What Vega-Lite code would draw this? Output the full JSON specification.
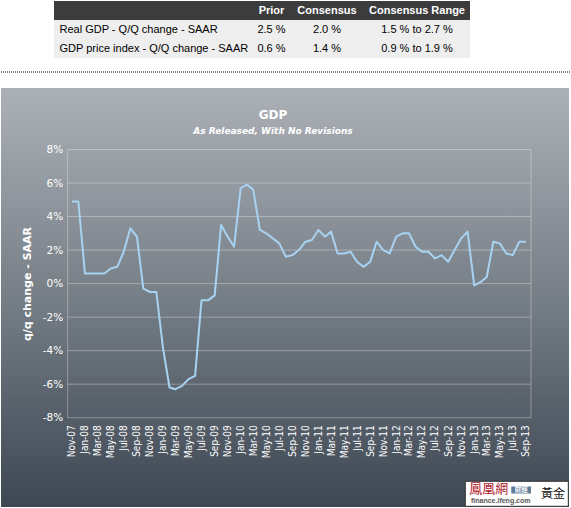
{
  "$schema": "https://vega.github.io/schema/vega-lite/v6.json",
  "background": "#ffffff",
  "padding": {"left": 0, "top": 1, "right": 0, "bottom": 0},
  "config": {"view": {"stroke": null}, "font": "Liberation Sans"},
  "datasets": {
    "table": [
      {"Indicator": "", "Prior": "Prior", "Consensus": "Consensus", "Range": "Consensus Range"},
      {"Indicator": "Real GDP - Q/Q change - SAAR", "Prior": "2.5 %", "Consensus": "2.0 %", "Range": "1.5 % to 2.7 %"},
      {"Indicator": "GDP price index - Q/Q change - SAAR", "Prior": "0.6 %", "Consensus": "1.4 %", "Range": "0.9 % to 1.9 %"}
    ],
    "grid": [{"v": -8}, {"v": -6}, {"v": -4}, {"v": -2}, {"v": 0}, {"v": 2}, {"v": 4}, {"v": 6}, {"v": 8}],
    "gdp": [
      {"date": "2007-11-01", "value": 4.9}, {"date": "2007-12-01", "value": 4.9},
      {"date": "2008-01-01", "value": 0.6}, {"date": "2008-02-01", "value": 0.6}, {"date": "2008-03-01", "value": 0.6},
      {"date": "2008-04-01", "value": 0.6}, {"date": "2008-05-01", "value": 0.9}, {"date": "2008-06-01", "value": 1.0},
      {"date": "2008-07-01", "value": 1.9}, {"date": "2008-08-01", "value": 3.3}, {"date": "2008-09-01", "value": 2.8},
      {"date": "2008-10-01", "value": -0.3}, {"date": "2008-11-01", "value": -0.5}, {"date": "2008-12-01", "value": -0.5},
      {"date": "2009-01-01", "value": -3.8}, {"date": "2009-02-01", "value": -6.2}, {"date": "2009-03-01", "value": -6.3},
      {"date": "2009-04-01", "value": -6.1}, {"date": "2009-05-01", "value": -5.7}, {"date": "2009-06-01", "value": -5.5},
      {"date": "2009-07-01", "value": -1.0}, {"date": "2009-08-01", "value": -1.0}, {"date": "2009-09-01", "value": -0.7},
      {"date": "2009-10-01", "value": 3.5}, {"date": "2009-11-01", "value": 2.8}, {"date": "2009-12-01", "value": 2.2},
      {"date": "2010-01-01", "value": 5.7}, {"date": "2010-02-01", "value": 5.9}, {"date": "2010-03-01", "value": 5.6},
      {"date": "2010-04-01", "value": 3.2}, {"date": "2010-05-01", "value": 3.0}, {"date": "2010-06-01", "value": 2.7},
      {"date": "2010-07-01", "value": 2.4}, {"date": "2010-08-01", "value": 1.6}, {"date": "2010-09-01", "value": 1.7},
      {"date": "2010-10-01", "value": 2.0}, {"date": "2010-11-01", "value": 2.5}, {"date": "2010-12-01", "value": 2.6},
      {"date": "2011-01-01", "value": 3.2}, {"date": "2011-02-01", "value": 2.8}, {"date": "2011-03-01", "value": 3.1},
      {"date": "2011-04-01", "value": 1.8}, {"date": "2011-05-01", "value": 1.8}, {"date": "2011-06-01", "value": 1.9},
      {"date": "2011-07-01", "value": 1.3}, {"date": "2011-08-01", "value": 1.0}, {"date": "2011-09-01", "value": 1.3},
      {"date": "2011-10-01", "value": 2.5}, {"date": "2011-11-01", "value": 2.0}, {"date": "2011-12-01", "value": 1.8},
      {"date": "2012-01-01", "value": 2.8}, {"date": "2012-02-01", "value": 3.0}, {"date": "2012-03-01", "value": 3.0},
      {"date": "2012-04-01", "value": 2.2}, {"date": "2012-05-01", "value": 1.9}, {"date": "2012-06-01", "value": 1.9},
      {"date": "2012-07-01", "value": 1.5}, {"date": "2012-08-01", "value": 1.7}, {"date": "2012-09-01", "value": 1.3},
      {"date": "2012-10-01", "value": 2.0}, {"date": "2012-11-01", "value": 2.7}, {"date": "2012-12-01", "value": 3.1},
      {"date": "2013-01-01", "value": -0.1}, {"date": "2013-02-01", "value": 0.1}, {"date": "2013-03-01", "value": 0.4},
      {"date": "2013-04-01", "value": 2.5}, {"date": "2013-05-01", "value": 2.4}, {"date": "2013-06-01", "value": 1.8},
      {"date": "2013-07-01", "value": 1.7}, {"date": "2013-08-01", "value": 2.5}, {"date": "2013-09-01", "value": 2.5}
    ]
  },
  "spacing": 15,
  "vconcat": [
    {
      "spacing": 13,
      "vconcat": [
        {
          "spacing": 0,
          "bounds": "flush",
          "hconcat": [
            {
              "width": 53, "height": 57,
              "data": {"name": "table"},
              "mark": {"type": "rect", "opacity": 0},
              "encoding": {"y": {"field": "Indicator", "type": "nominal", "sort": null, "axis": null, "scale": {"paddingInner": 0, "paddingOuter": 0}}}
            },
            {
              "width": 199, "height": 57,
              "data": {"name": "table"},
              "mark": {"type": "rect"},
              "encoding": {
                "y": {"field": "Indicator", "type": "nominal", "sort": null, "scale": {"paddingInner": 0, "paddingOuter": 0},
                  "axis": {"orient": "left", "title": null, "domain": false, "ticks": false, "tickSize": 0, "labelPadding": -5, "labelAlign": "left", "labelBaseline": "middle", "labelFont": "Liberation Sans", "labelFontSize": 11, "labelColor": "#000000", "labelLimit": 0, "zindex": 1}},
                "color": {"condition": {"test": "datum.Indicator === ''", "value": "#3c3c3c"}, "value": "#eeeeee"}
              }
            },
            {
              "width": 37, "height": 57,
              "data": {"name": "table"},
              "encoding": {"y": {"field": "Indicator", "type": "nominal", "sort": null, "axis": null, "scale": {"paddingInner": 0, "paddingOuter": 0}}},
              "layer": [
                {"mark": {"type": "rect"}, "encoding": {"color": {"condition": {"test": "datum.Indicator === ''", "value": "#3c3c3c"}, "value": "#eeeeee"}}},
                {"transform": [{"filter": "datum.Indicator !== ''"}], "mark": {"type": "text", "font": "Liberation Sans", "fontSize": 11, "color": "#000000"}, "encoding": {"text": {"field": "Prior"}}},
                {"transform": [{"filter": "datum.Indicator === ''"}], "mark": {"type": "text", "font": "Liberation Sans", "fontSize": 11, "fontWeight": "bold", "color": "#ffffff"}, "encoding": {"text": {"field": "Prior"}}}
              ]
            },
            {
              "width": 74, "height": 57,
              "data": {"name": "table"},
              "encoding": {"y": {"field": "Indicator", "type": "nominal", "sort": null, "axis": null, "scale": {"paddingInner": 0, "paddingOuter": 0}}},
              "layer": [
                {"mark": {"type": "rect"}, "encoding": {"color": {"condition": {"test": "datum.Indicator === ''", "value": "#3c3c3c"}, "value": "#eeeeee"}}},
                {"transform": [{"filter": "datum.Indicator !== ''"}], "mark": {"type": "text", "font": "Liberation Sans", "fontSize": 11, "color": "#000000"}, "encoding": {"text": {"field": "Consensus"}}},
                {"transform": [{"filter": "datum.Indicator === ''"}], "mark": {"type": "text", "font": "Liberation Sans", "fontSize": 11, "fontWeight": "bold", "color": "#ffffff"}, "encoding": {"text": {"field": "Consensus"}}}
              ]
            },
            {
              "width": 106, "height": 57,
              "data": {"name": "table"},
              "encoding": {"y": {"field": "Indicator", "type": "nominal", "sort": null, "axis": null, "scale": {"paddingInner": 0, "paddingOuter": 0}}},
              "layer": [
                {"mark": {"type": "rect"}, "encoding": {"color": {"condition": {"test": "datum.Indicator === ''", "value": "#3c3c3c"}, "value": "#eeeeee"}}},
                {"transform": [{"filter": "datum.Indicator !== ''"}], "mark": {"type": "text", "font": "Liberation Sans", "fontSize": 11, "color": "#000000"}, "encoding": {"text": {"field": "Range"}}},
                {"transform": [{"filter": "datum.Indicator === ''"}], "mark": {"type": "text", "font": "Liberation Sans", "fontSize": 11, "fontWeight": "bold", "color": "#ffffff"}, "encoding": {"text": {"field": "Range"}}}
              ]
            }
          ]
        },
        {
          "width": 571, "height": 1,
          "data": {"values": [{}]},
          "mark": {"type": "rule", "color": "#000000", "strokeDash": [1, 1], "strokeWidth": 1},
          "encoding": {"y": {"datum": 0, "type": "quantitative", "scale": {"domain": [0, 1]}, "axis": null}}
        }
      ]
    },
    {
      "width": 568, "height": 419,
      "title": {
        "text": "GDP", "subtitle": "As Released, With No Revisions",
        "anchor": "middle", "offset": -49, "dx": -12,
        "color": "#ffffff", "font": "DejaVu Sans", "fontSize": 12, "fontWeight": "bold",
        "subtitleColor": "#ffffff", "subtitleFont": "DejaVu Sans", "subtitleFontSize": 9, "subtitleFontWeight": "bold", "subtitleFontStyle": "italic", "subtitlePadding": 5
      },
      "layer": [
        {
          "data": {"values": [{}]},
          "mark": {"type": "rect", "color": {"gradient": "linear", "x1": 0, "y1": 0, "x2": 0, "y2": 1, "stops": [{"offset": 0, "color": "#acb1b7"}, {"offset": 0.5, "color": "#767e86"}, {"offset": 1, "color": "#3d4753"}]}},
          "encoding": {
            "x": {"datum": {"year": 2006, "month": 12, "date": 3}, "type": "temporal", "scale": {"type": "time", "domain": [{"year": 2006, "month": 12, "date": 3}, {"year": 2014, "month": 3, "date": 22}], "nice": false}},
            "x2": {"datum": {"year": 2014, "month": 3, "date": 22}},
            "y": {"datum": -13.327, "type": "quantitative", "scale": {"domain": [-13.327, 11.669], "nice": false, "zero": false}},
            "y2": {"datum": 11.669}
          }
        },
        {
          "data": {"name": "grid"},
          "mark": {"type": "rule", "color": "#ffffff", "opacity": 0.32, "strokeWidth": 1},
          "encoding": {
            "x": {"datum": {"year": 2007, "month": 10, "date": 12}, "type": "temporal"},
            "x2": {"datum": {"year": 2013, "month": 9, "date": 24, "hours": 14}},
            "y": {"field": "v", "type": "quantitative"}
          }
        },
        {
          "data": {"values": [{}]},
          "mark": {"type": "rule", "color": "#ffffff", "opacity": 0.32, "strokeWidth": 1},
          "encoding": {
            "x": {"datum": {"year": 2007, "month": 10, "date": 12}, "type": "temporal"},
            "y": {"datum": -8, "type": "quantitative"},
            "y2": {"datum": 8}
          }
        },
        {
          "data": {"values": [{}]},
          "mark": {"type": "rule", "color": "#ffffff", "opacity": 0.32, "strokeWidth": 1},
          "encoding": {
            "x": {"datum": {"year": 2013, "month": 9, "date": 24, "hours": 14}, "type": "temporal"},
            "y": {"datum": -8, "type": "quantitative"},
            "y2": {"datum": 8}
          }
        },
        {
          "data": {"name": "gdp"},
          "mark": {"type": "line", "color": "#a8d2f2", "strokeWidth": 2, "strokeJoin": "round"},
          "encoding": {
            "x": {
              "field": "date", "type": "temporal",
              "scale": {"type": "time", "domain": [{"year": 2006, "month": 12, "date": 3}, {"year": 2014, "month": 3, "date": 22}], "nice": false},
              "axis": {
                "orient": "bottom", "offset": -89.3, "title": null, "zindex": 2, "tickCount": 200,
                "values": [
                  {"year": 2007, "month": 11, "date": 1},
                  {"year": 2008, "month": 1, "date": 1}, {"year": 2008, "month": 3, "date": 1}, {"year": 2008, "month": 5, "date": 1}, {"year": 2008, "month": 7, "date": 1}, {"year": 2008, "month": 9, "date": 1}, {"year": 2008, "month": 11, "date": 1},
                  {"year": 2009, "month": 1, "date": 1}, {"year": 2009, "month": 3, "date": 1}, {"year": 2009, "month": 5, "date": 1}, {"year": 2009, "month": 7, "date": 1}, {"year": 2009, "month": 9, "date": 1}, {"year": 2009, "month": 11, "date": 1},
                  {"year": 2010, "month": 1, "date": 1}, {"year": 2010, "month": 3, "date": 1}, {"year": 2010, "month": 5, "date": 1}, {"year": 2010, "month": 7, "date": 1}, {"year": 2010, "month": 9, "date": 1}, {"year": 2010, "month": 11, "date": 1},
                  {"year": 2011, "month": 1, "date": 1}, {"year": 2011, "month": 3, "date": 1}, {"year": 2011, "month": 5, "date": 1}, {"year": 2011, "month": 7, "date": 1}, {"year": 2011, "month": 9, "date": 1}, {"year": 2011, "month": 11, "date": 1},
                  {"year": 2012, "month": 1, "date": 1}, {"year": 2012, "month": 3, "date": 1}, {"year": 2012, "month": 5, "date": 1}, {"year": 2012, "month": 7, "date": 1}, {"year": 2012, "month": 9, "date": 1}, {"year": 2012, "month": 11, "date": 1},
                  {"year": 2013, "month": 1, "date": 1}, {"year": 2013, "month": 3, "date": 1}, {"year": 2013, "month": 5, "date": 1}, {"year": 2013, "month": 7, "date": 1}, {"year": 2013, "month": 9, "date": 1}
                ],
                "format": "%b-%y", "labelAngle": -90, "labelPadding": 7,
                "labelFont": "DejaVu Sans Condensed", "labelFontSize": 10, "labelColor": "#ffffff",
                "labelOverlap": false, "labelFlush": false,
                "domain": false, "ticks": false, "tickSize": 0, "grid": false
              }
            },
            "y": {
              "field": "value", "type": "quantitative",
              "scale": {"domain": [-13.327, 11.669], "nice": false, "zero": false},
              "axis": {
                "orient": "left", "offset": -66.7, "zindex": 2, "tickCount": 50,
                "values": [-8, -6, -4, -2, 0, 2, 4, 6, 8],
                "labelExpr": "datum.value + '%'",
                "labelFont": "DejaVu Sans", "labelFontSize": 10.5, "labelColor": "#ffffff", "labelPadding": 5,
                "domain": false, "ticks": false, "tickSize": 0, "grid": false,
                "title": "q/q change - SAAR", "titleFont": "DejaVu Sans", "titleFontSize": 11, "titleFontWeight": "bold", "titleColor": "#ffffff", "titlePadding": 10, "titleY": 195.5
              }
            }
          }
        },
        {
          "data": {"values": [{}]},
          "mark": {"type": "rect", "fill": "#ffffff", "stroke": "#333333", "strokeWidth": 1},
          "encoding": {
            "x": {"datum": {"year": 2012, "month": 11, "date": 20, "hours": 7}, "type": "temporal"},
            "x2": {"datum": {"year": 2014, "month": 3, "date": 18, "hours": 17}},
            "y": {"datum": -11.794, "type": "quantitative"},
            "y2": {"datum": -13.286}
          }
        },
        {
          "data": {"values": [{}]},
          "mark": {"type": "rect", "fill": "#5f7b96"},
          "encoding": {
            "x": {"datum": {"year": 2013, "month": 6, "date": 24, "hours": 2}, "type": "temporal"},
            "x2": {"datum": {"year": 2013, "month": 9, "date": 24, "hours": 14}},
            "y": {"datum": -12.1, "type": "quantitative"},
            "y2": {"datum": -12.52}
          }
        },
        {
          "data": {"values": [{"t": "鳳凰網"}]},
          "mark": {"type": "text", "align": "left", "baseline": "middle", "font": "Noto Sans CJK TC", "fontSize": 13, "color": "#b0202a"},
          "encoding": {
            "x": {"datum": {"year": 2012, "month": 12, "date": 9}, "type": "temporal"},
            "y": {"datum": -12.283, "type": "quantitative"},
            "text": {"field": "t"}
          }
        },
        {
          "data": {"values": [{"t": "財經"}]},
          "mark": {"type": "text", "align": "center", "baseline": "middle", "font": "Noto Sans CJK TC", "fontSize": 6.5, "fontWeight": "bold", "color": "#ffffff"},
          "encoding": {
            "x": {"datum": {"year": 2013, "month": 8, "date": 10}, "type": "temporal"},
            "y": {"datum": -12.31, "type": "quantitative"},
            "text": {"field": "t"}
          }
        },
        {
          "data": {"values": [{"t": "finance.ifeng.com"}]},
          "mark": {"type": "text", "align": "left", "baseline": "middle", "font": "Liberation Sans", "fontSize": 7, "fontWeight": "bold", "color": "#555555"},
          "encoding": {
            "x": {"datum": {"year": 2012, "month": 12, "date": 17}, "type": "temporal"},
            "y": {"datum": -12.98, "type": "quantitative"},
            "text": {"field": "t"}
          }
        },
        {
          "data": {"values": [{"t": "黃金"}]},
          "mark": {"type": "text", "align": "center", "baseline": "middle", "font": "Noto Sans CJK TC", "fontSize": 12, "color": "#111111"},
          "encoding": {
            "x": {"datum": {"year": 2014, "month": 1, "date": 6}, "type": "temporal"},
            "y": {"datum": -12.522, "type": "quantitative"},
            "text": {"field": "t"}
          }
        }
      ]
    }
  ]
}
